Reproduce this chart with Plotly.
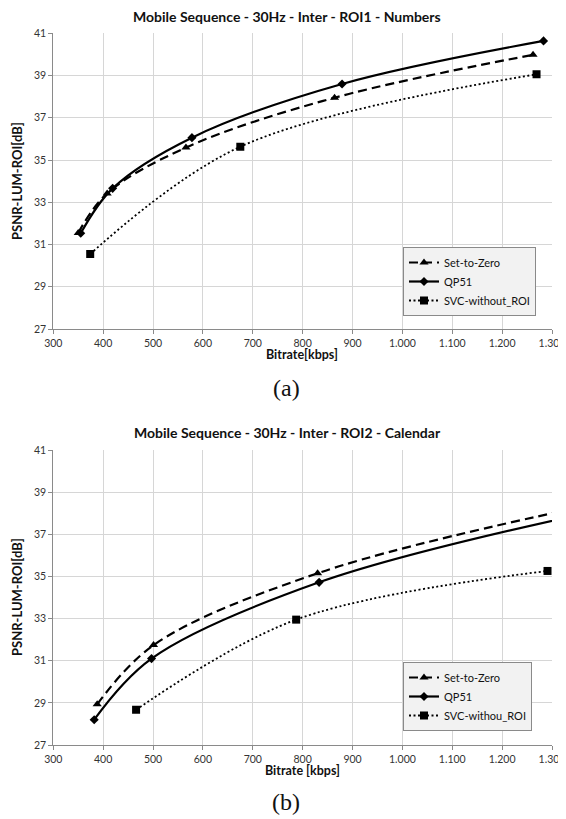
import plotly.graph_objects as go

# ---------------- data ----------------
x_tick_vals = [300, 400, 500, 600, 700, 800, 900, 1000, 1100, 1200, 1300]
x_tick_text = ["300", "400", "500", "600", "700", "800", "900", "1.000", "1.100", "1.200", "1.300"]
y_tick_vals = [27, 29, 31, 33, 35, 37, 39, 41]

title_a = "Mobile Sequence - 30Hz - Inter - ROI1 - Numbers"
title_b = "Mobile Sequence - 30Hz - Inter - ROI2 - Calendar"
xlabel_a = "Bitrate[kbps]"
xlabel_b = "Bitrate [kbps]"
ylabel = "PSNR-LUM-ROI[dB]"

names_a = ["Set-to-Zero", "QP51", "SVC-without_ROI"]
names_b = ["Set-to-Zero", "QP51", "SVC-withou_ROI"]

a_stz_x = [350, 408, 566, 864, 1262]
a_stz_y = [31.55, 33.42, 35.59, 37.95, 39.98]
a_qp_x = [355, 419, 578, 879, 1283]
a_qp_y = [31.53, 33.66, 36.06, 38.60, 40.64]
a_svc_x = [374, 675, 1269]
a_svc_y = [30.55, 35.63, 39.06]

b_stz_x = [388, 501, 830, 1330]
b_stz_y = [28.93, 31.74, 35.15, 38.15]
b_qp_x = [382, 497, 833, 1330]
b_qp_y = [28.20, 31.10, 34.72, 37.80]
b_svc_x = [466, 787, 1291]
b_svc_y = [28.67, 32.95, 35.26]

# ---------------- figure ----------------
OFF = 8  # page body margin
W, H = 566 - OFF, 819 - OFF
FONT = "Lato"
fig = go.Figure()

styles = [
    dict(dash="9px,5px", width=2.2, symbol="triangle-up", size=8),
    dict(dash="solid", width=2.2, symbol="diamond", size=7),
    dict(dash="2px,2.5px", width=1.8, symbol="square", size=8),
]

def add_series(xs, ys, name, st, xa, ya, legend):
    fig.add_trace(go.Scatter(
        x=xs, y=ys, name=name, mode="lines+markers",
        line=dict(color="black", width=st["width"], dash=st["dash"], shape="spline", smoothing=1.0),
        marker=dict(symbol=st["symbol"], size=st["size"], color="black"),
        xaxis=xa, yaxis=ya, legend=legend,
    ))

for (xs, ys), nm, st in zip([(a_stz_x, a_stz_y), (a_qp_x, a_qp_y), (a_svc_x, a_svc_y)], names_a, styles):
    add_series(xs, ys, nm, st, "x", "y", "legend")
for (xs, ys), nm, st in zip([(b_stz_x, b_stz_y), (b_qp_x, b_qp_y), (b_svc_x, b_svc_y)], names_b, styles):
    add_series(xs, ys, nm, st, "x2", "y2", "legend2")

def px_x(p):
    return (p - OFF) / W

def px_y(p):
    return 1 - (p - OFF) / H

xdom = [px_x(53.3), px_x(552)]
ydom_a = [px_y(329), px_y(33.3)]
ydom_b = [px_y(745), px_y(450)]

axis_common = dict(
    showgrid=True, gridcolor="#d6d6d6", gridwidth=1,
    showline=True, linecolor="#8a8a8a", linewidth=1,
    ticks="outside", ticklen=4, tickcolor="#8a8a8a",
    tickfont=dict(family=FONT, size=10.5, color="#333333"),
    zeroline=False, automargin=False,
)

fig.update_layout(
    width=W, height=H,
    margin=dict(l=0, r=0, t=0, b=0),
    paper_bgcolor="white", plot_bgcolor="white",
    showlegend=True,
    xaxis=dict(domain=xdom, anchor="y", range=[300, 1300], tickvals=x_tick_vals, ticktext=x_tick_text, **axis_common),
    yaxis=dict(domain=ydom_a, anchor="x", range=[27, 41], tickvals=y_tick_vals, **axis_common),
    xaxis2=dict(domain=xdom, anchor="y2", range=[300, 1300], tickvals=x_tick_vals, ticktext=x_tick_text, **axis_common),
    yaxis2=dict(domain=ydom_b, anchor="x2", range=[27, 41], tickvals=y_tick_vals, **axis_common),
    legend=dict(
        x=px_x(403), y=px_y(247), xanchor="left", yanchor="top",
        bgcolor="#f2f2f2", bordercolor="#8a8a8a", borderwidth=1,
        font=dict(family=FONT, size=11, color="#111111"),
        itemwidth=30, tracegroupgap=0,
    ),
    legend2=dict(
        x=px_x(403), y=px_y(662), xanchor="left", yanchor="top",
        bgcolor="#f2f2f2", bordercolor="#8a8a8a", borderwidth=1,
        font=dict(family=FONT, size=11, color="#111111"),
        itemwidth=30, tracegroupgap=0,
    ),
)

def ann(text, xp, yp, size, family=FONT, bold=False, angle=0, color="#111111"):
    fig.add_annotation(
        text=f"<b>{text}</b>" if bold else text,
        x=px_x(xp), y=px_y(yp), xref="paper", yref="paper",
        xanchor="center", yanchor="middle", showarrow=False, textangle=angle,
        font=dict(family=family, size=size, color=color),
    )

ann(title_a, 287, 16, 14, bold=True)
ann(title_b, 287, 433, 14, bold=True)
ann(xlabel_a, 302, 354, 12.5, bold=True)
ann(xlabel_b, 302, 770, 12.5, bold=True)
ann(ylabel, 17, 181, 13, bold=True, angle=-90)
ann(ylabel, 17, 597, 13, bold=True, angle=-90)
ann("(a)", 286, 388, 24, family="Liberation Serif")
ann("(b)", 286, 802, 24, family="Liberation Serif")

fig.write_html("out.html")
